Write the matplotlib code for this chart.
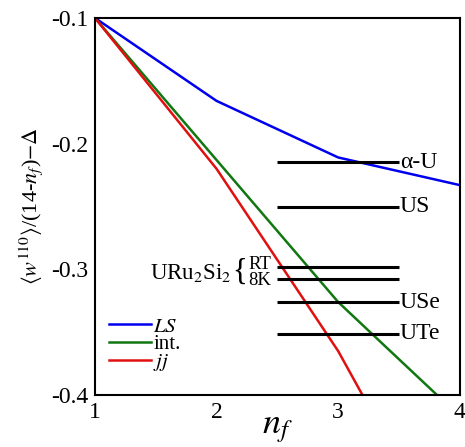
import matplotlib
matplotlib.use('Agg')
import matplotlib.pyplot as plt

plt.rcParams['font.family'] = ['Liberation Serif', 'DejaVu Serif']
plt.rcParams['mathtext.fontset'] = 'stix'

# curves: <w110>/(14-nf) - Delta vs nf
nf = [1, 2, 3, 4]
ls_vals = [-0.100, -0.166, -0.211, -0.233]
int_vals = [-0.100, -0.213, -0.326, -0.417]
jj_vals = [-0.100, -0.220, -0.365, -0.540]

# experimental levels
compounds = ['α-U', 'US', 'RT', '8K', 'USe', 'UTe']
levels = [-0.215, -0.250, -0.298, -0.308, -0.326, -0.351]
level_x = [2.5, 3.5]

fig = plt.figure(figsize=(4.65, 4.47), dpi=100)
ax = fig.add_axes([0.204, 0.116, 0.785, 0.844])

ax.plot(nf, ls_vals, color='#0000ee', lw=1.8, label='$LS$')
ax.plot(nf, int_vals, color='#117711', lw=1.8, label='int.')
ax.plot(nf, jj_vals, color='#e01010', lw=1.8, label='$jj$')

for name, y in zip(compounds, levels):
    ax.plot(level_x, [y, y], color='black', lw=2.2, solid_capstyle='butt')
    if name not in ('RT', '8K'):
        ax.text(level_x[1] + 0.005, y, name, fontsize=17, va='center', ha='left')

# URu2Si2 with brace
y_mid = (levels[2] + levels[3]) / 2
ax.text(2.125, y_mid, r'URu$_2$Si$_2$', fontsize=16.5, va='center', ha='right')
ax.text(2.125, y_mid + 0.001, '{', fontsize=22, va='center', ha='left')
ax.text(2.26, levels[2] + 0.002, 'RT', fontsize=13.5, va='center', ha='left')
ax.text(2.26, levels[3] - 0.001, '8K', fontsize=13.5, va='center', ha='left')

ax.set_xlim(1, 4)
ax.set_ylim(-0.4, -0.1)
ax.set_xticks([1, 2, 3, 4])
ax.set_yticks([-0.1, -0.2, -0.3, -0.4])
ax.set_yticklabels(['-0.1', '-0.2', '-0.3', '-0.4'])
ax.tick_params(length=0, labelsize=17, pad=5)
for s in ax.spines.values():
    s.set_linewidth(1.5)

ax.set_xlabel('$n_f$', fontsize=26, labelpad=-8)
ax.set_ylabel(r'$\left\langle w^{110}\right\rangle$/(14-$n_f$)$-\Delta$', fontsize=16, labelpad=4)

ax.legend(loc='lower left', bbox_to_anchor=(0.0, 0.02), frameon=False, fontsize=15,
          handlelength=2.0, handletextpad=0.1, labelspacing=-0.1, borderaxespad=0.3)

fig.savefig('out.png', dpi=100)
